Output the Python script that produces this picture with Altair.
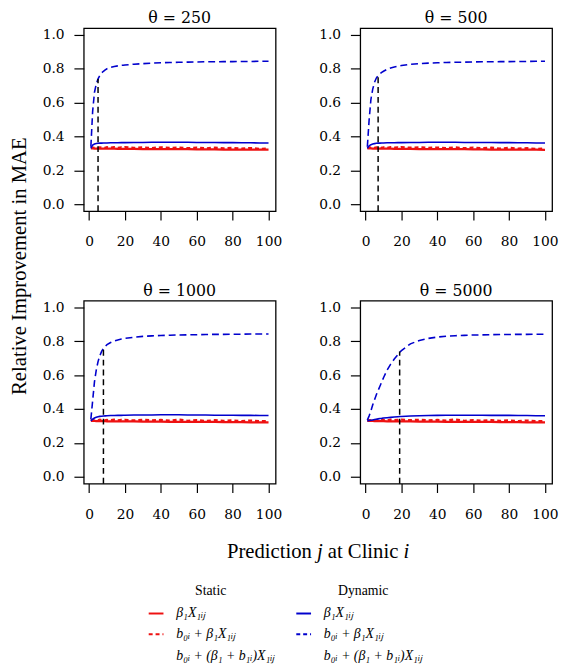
import altair as alt
import pandas as pd

# ---------------- data ----------------
X = [1, 2, 3, 4, 5, 6, 7, 8, 9, 10, 12, 14, 16, 18, 19, 20, 25, 30, 35, 40,
     45, 50, 55, 60, 65, 70, 75, 80, 85, 90, 95, 100]

PANEL_TITLES = ["θ = 250", "θ = 500", "θ = 1000", "θ = 5000"]

# static, beta1 X1ij (red solid)
RED_SOLID_250 = [0.330, 0.330, 0.329, 0.329, 0.329, 0.329, 0.329, 0.329, 0.328, 0.328, 0.328, 0.328, 0.327, 0.327, 0.327, 0.327,
                 0.327, 0.326, 0.326, 0.326, 0.325, 0.325, 0.325, 0.324, 0.324, 0.324, 0.323, 0.323, 0.323, 0.322, 0.322, 0.322]
RED_SOLID_500 = [0.330, 0.330, 0.330, 0.329, 0.329, 0.329, 0.329, 0.329, 0.328, 0.328, 0.328, 0.328, 0.327, 0.327, 0.327, 0.327,
                 0.327, 0.326, 0.326, 0.326, 0.325, 0.325, 0.325, 0.324, 0.324, 0.323, 0.323, 0.323, 0.322, 0.322, 0.322, 0.321]
RED_SOLID_1000 = [0.330, 0.330, 0.330, 0.329, 0.329, 0.329, 0.329, 0.329, 0.329, 0.328, 0.328, 0.328, 0.328, 0.327, 0.327, 0.327,
                  0.327, 0.326, 0.326, 0.326, 0.325, 0.325, 0.325, 0.324, 0.324, 0.324, 0.323, 0.323, 0.323, 0.322, 0.322, 0.322]
RED_SOLID_5000 = [0.330, 0.330, 0.330, 0.330, 0.329, 0.329, 0.329, 0.329, 0.329, 0.329, 0.328, 0.328, 0.328, 0.328, 0.327, 0.327,
                  0.327, 0.326, 0.326, 0.326, 0.325, 0.325, 0.325, 0.324, 0.324, 0.324, 0.323, 0.323, 0.323, 0.322, 0.322, 0.322]

# static, b0i + beta1 X1ij (red dashed)
RED_DASH_250 = [0.333, 0.335, 0.333, 0.336, 0.333, 0.336, 0.334, 0.336, 0.333, 0.337, 0.334, 0.337, 0.333, 0.336, 0.334, 0.337,
                0.333, 0.336, 0.332, 0.336, 0.333, 0.335, 0.331, 0.335, 0.330, 0.334, 0.330, 0.333, 0.328, 0.332, 0.327, 0.330]
RED_DASH_500 = [0.333, 0.336, 0.334, 0.337, 0.333, 0.336, 0.334, 0.337, 0.333, 0.336, 0.333, 0.337, 0.334, 0.336, 0.333, 0.337,
                0.334, 0.336, 0.333, 0.335, 0.332, 0.336, 0.331, 0.334, 0.331, 0.334, 0.329, 0.333, 0.329, 0.331, 0.327, 0.330]
RED_DASH_1000 = [0.333, 0.335, 0.334, 0.336, 0.333, 0.337, 0.334, 0.336, 0.333, 0.336, 0.334, 0.337, 0.333, 0.336, 0.334, 0.336,
                 0.333, 0.337, 0.333, 0.336, 0.332, 0.338, 0.331, 0.335, 0.330, 0.334, 0.330, 0.333, 0.329, 0.332, 0.328, 0.330]
RED_DASH_5000 = [0.333, 0.334, 0.333, 0.335, 0.334, 0.336, 0.333, 0.336, 0.334, 0.336, 0.333, 0.337, 0.334, 0.336, 0.333, 0.337,
                 0.334, 0.337, 0.333, 0.336, 0.332, 0.339, 0.331, 0.335, 0.331, 0.334, 0.330, 0.333, 0.329, 0.332, 0.328, 0.330]

# dynamic, beta1 X1ij (blue solid)
BLUE_SOLID_250 = [0.330, 0.350, 0.356, 0.359, 0.360, 0.361, 0.361, 0.362, 0.362, 0.362, 0.363, 0.363, 0.363, 0.364, 0.364, 0.364,
                  0.365, 0.365, 0.366, 0.366, 0.366, 0.366, 0.366, 0.365, 0.365, 0.365, 0.364, 0.364, 0.363, 0.363, 0.362, 0.362]
BLUE_SOLID_500 = [0.330, 0.345, 0.352, 0.356, 0.358, 0.360, 0.361, 0.361, 0.362, 0.362, 0.363, 0.363, 0.363, 0.364, 0.364, 0.364,
                  0.365, 0.365, 0.366, 0.366, 0.366, 0.366, 0.365, 0.365, 0.365, 0.365, 0.364, 0.364, 0.363, 0.363, 0.362, 0.362]
BLUE_SOLID_1000 = [0.330, 0.340, 0.347, 0.352, 0.355, 0.357, 0.358, 0.359, 0.360, 0.361, 0.362, 0.362, 0.363, 0.363, 0.364, 0.364,
                   0.365, 0.365, 0.365, 0.366, 0.366, 0.366, 0.365, 0.365, 0.365, 0.364, 0.364, 0.364, 0.363, 0.363, 0.362, 0.362]
BLUE_SOLID_5000 = [0.330, 0.332, 0.334, 0.336, 0.338, 0.340, 0.342, 0.344, 0.345, 0.347, 0.349, 0.351, 0.353, 0.355, 0.356, 0.356,
                   0.359, 0.361, 0.362, 0.363, 0.364, 0.364, 0.364, 0.364, 0.364, 0.363, 0.363, 0.363, 0.362, 0.362, 0.361, 0.361]

# dynamic, b0i + beta1 X1ij (blue dashed)
BLUE_DASH_250 = [0.340, 0.550, 0.660, 0.710, 0.740, 0.760, 0.775, 0.785, 0.793, 0.800, 0.808, 0.813, 0.817, 0.820, 0.821, 0.822,
                 0.827, 0.830, 0.833, 0.835, 0.837, 0.838, 0.839, 0.840, 0.841, 0.841, 0.842, 0.842, 0.843, 0.843, 0.844, 0.844]
BLUE_DASH_500 = [0.340, 0.500, 0.620, 0.680, 0.720, 0.745, 0.760, 0.770, 0.778, 0.785, 0.797, 0.805, 0.810, 0.815, 0.817, 0.819,
                 0.826, 0.830, 0.833, 0.835, 0.837, 0.838, 0.839, 0.840, 0.841, 0.841, 0.842, 0.842, 0.843, 0.843, 0.844, 0.844]
BLUE_DASH_1000 = [0.340, 0.450, 0.560, 0.630, 0.680, 0.715, 0.740, 0.758, 0.770, 0.780, 0.793, 0.802, 0.808, 0.813, 0.815, 0.817,
                  0.824, 0.829, 0.832, 0.834, 0.836, 0.837, 0.838, 0.839, 0.840, 0.841, 0.841, 0.842, 0.842, 0.843, 0.843, 0.843]
BLUE_DASH_5000 = [0.335, 0.360, 0.390, 0.425, 0.455, 0.485, 0.510, 0.535, 0.560, 0.585, 0.630, 0.665, 0.695, 0.720, 0.735, 0.745,
                  0.785, 0.805, 0.817, 0.825, 0.830, 0.833, 0.835, 0.837, 0.838, 0.839, 0.840, 0.840, 0.841, 0.841, 0.842, 0.842]

# black dashed change-point markers
CUT_X = [5, 7, 8, 19]
CUT_Y = [0.740, 0.760, 0.758, 0.740]

X_TICKS = [0, 20, 40, 60, 80, 100]
Y_TICKS = [0.0, 0.2, 0.4, 0.6, 0.8, 1.0]
X_DOMAIN = [-2.96, 103.96]
Y_DOMAIN = [-0.04, 1.04]

LEGEND_GROUPS = ["Static", "Dynamic"]
LEGEND_LABELS = ["β₁X₁ᵢⱼ", "b₀ᵢ + β₁X₁ᵢⱼ", "b₀ᵢ + (β₁ + b₁ᵢ)X₁ᵢⱼ"]
X_TITLE_PARTS = ["Prediction", "j", "at Clinic", "i"]   # "Prediction j at Clinic i"
Y_TITLE = "Relative Improvement in MAE"

# ---------------- styling ----------------
RED = "#EE1111"
BLUE = "#0000CD"
NUM_FONT = "DejaVu Serif"
TXT_FONT = "Liberation Serif"
W, H = 195, 186
GAP_COL, GAP_ROW = 86, 91
ONE = alt.Data(values=[{}])


def panel(title, rs, rd, bs, bd, cx, cy):
    df = pd.DataFrame({"x": X, "rs": rs, "rd": rd, "bs": bs, "bd": bd})
    xs = alt.Scale(domain=X_DOMAIN, nice=False, zero=False)
    ys = alt.Scale(domain=Y_DOMAIN, nice=False, zero=False)
    xax = alt.Axis(values=X_TICKS, title=None, domain=False, grid=False, tickSize=9,
                   tickColor="black", tickWidth=1.2, labelFont=NUM_FONT, labelFontSize=14,
                   labelColor="black", labelPadding=15, labelFlush=False, labelOverlap=False)
    yax = alt.Axis(values=Y_TICKS, title=None, domain=False, grid=False, tickSize=10,
                   tickColor="black", tickWidth=1.2, labelFont=NUM_FONT, labelFontSize=14,
                   labelColor="black", labelPadding=10, format=".1f", labelFlush=False,
                   labelOverlap=False)
    base = alt.Chart(df)

    def line(field, color, width, dash=None):
        kw = dict(color=color, strokeWidth=width, clip=True)
        if dash:
            kw["strokeDash"] = dash
        return base.mark_line(**kw).encode(
            x=alt.X("x:Q", scale=xs, axis=xax),
            y=alt.Y(f"{field}:Q", scale=ys, axis=yax),
        )

    cut = alt.Chart(pd.DataFrame({"cx": [cx], "cy": [cy], "cy0": [Y_DOMAIN[0]]})).mark_rule(
        color="black", strokeWidth=1.5, strokeDash=[6, 4]
    ).encode(x=alt.X("cx:Q", scale=xs, axis=xax),
             y=alt.Y("cy0:Q", scale=ys, axis=yax), y2=alt.Y2("cy:Q"))

    layers = [line("rs", RED, 2.3), line("rd", RED, 2.3, [4, 3]),
              line("bs", BLUE, 1.6), line("bd", BLUE, 1.6, [7, 4]), cut]
    return alt.layer(*layers).properties(
        width=W, height=H,
        title=alt.TitleParams(title, font=NUM_FONT, fontSize=16, fontWeight="normal",
                              color="black", anchor="middle", frame="group", offset=2),
        view=alt.ViewBackground(stroke="black", strokeWidth=1.3),
    )


p1 = panel(PANEL_TITLES[0], RED_SOLID_250, RED_DASH_250, BLUE_SOLID_250, BLUE_DASH_250, CUT_X[0], CUT_Y[0])
p2 = panel(PANEL_TITLES[1], RED_SOLID_500, RED_DASH_500, BLUE_SOLID_500, BLUE_DASH_500, CUT_X[1], CUT_Y[1])
p3 = panel(PANEL_TITLES[2], RED_SOLID_1000, RED_DASH_1000, BLUE_SOLID_1000, BLUE_DASH_1000, CUT_X[2], CUT_Y[2])
p4 = panel(PANEL_TITLES[3], RED_SOLID_5000, RED_DASH_5000, BLUE_SOLID_5000, BLUE_DASH_5000, CUT_X[3], CUT_Y[3])


# ---------------- bottom cell: shared titles and legend ----------------
# origin of this cell: left edge of the panel grid, one row below the second panel row
def txt(s, x, y, size=14, italic=False, align="left", font=TXT_FONT, angle=None):
    kw = dict(text=s, font=font, fontSize=size, align=align, baseline="middle", color="black")
    if italic:
        kw["fontStyle"] = "italic"
    if angle is not None:
        kw["angle"] = angle
    return alt.Chart(ONE).mark_text(**kw).encode(x=alt.value(x), y=alt.value(y))


def sample(x1, x2, y, color, dash=None, opacity=1):
    kw = dict(color=color, strokeWidth=2, strokeOpacity=opacity)
    if dash:
        kw["strokeDash"] = dash
    return alt.Chart(ONE).mark_rule(**kw).encode(
        x=alt.value(x1), x2=alt.value(x2), y=alt.value(y), y2=alt.value(y))


ROWS = [41, 62, 84]
XT_Y = -21
bottom = alt.layer(
    sample(-76, -70, -312, "white", opacity=0),          # invisible left anchor
    txt(Y_TITLE, -65, -312, size=21, align="center", angle=270),
    # x title: upright words with italic j and i (Times metrics, 21px)
    txt(X_TITLE_PARTS[0], 145.5, XT_Y, size=21),
    txt(X_TITLE_PARTS[1], 237.0, XT_Y, size=21, italic=True),
    txt(X_TITLE_PARTS[2], 248.0, XT_Y, size=21),
    txt(X_TITLE_PARTS[3], 325.0, XT_Y, size=21, italic=True),
    txt(LEGEND_GROUPS[0], 129, 18, align="center"),
    txt(LEGEND_GROUPS[1], 284, 18, align="center"),
    sample(66, 81, ROWS[0], RED),
    sample(66, 81, ROWS[1], RED, [4, 3]),
    sample(216, 231, ROWS[0], BLUE),
    sample(216, 231, ROWS[1], BLUE, [4, 3]),
    *[txt(LEGEND_LABELS[i], 94, ROWS[i], italic=True) for i in range(3)],
    *[txt(LEGEND_LABELS[i], 244, ROWS[i], italic=True) for i in range(3)],
).properties(width=W, height=90,
             view=alt.ViewBackground(stroke="transparent"))

chart = alt.concat(p1, p2, p3, p4, bottom, columns=2,
                   spacing={"row": GAP_ROW, "column": GAP_COL}, bounds="flush").properties(
    padding={"left": 0, "top": -4, "right": 0, "bottom": 0}, background="white"
).configure(font=TXT_FONT)

chart.save("out.html", embed_options={"renderer": "svg", "actions": False})
